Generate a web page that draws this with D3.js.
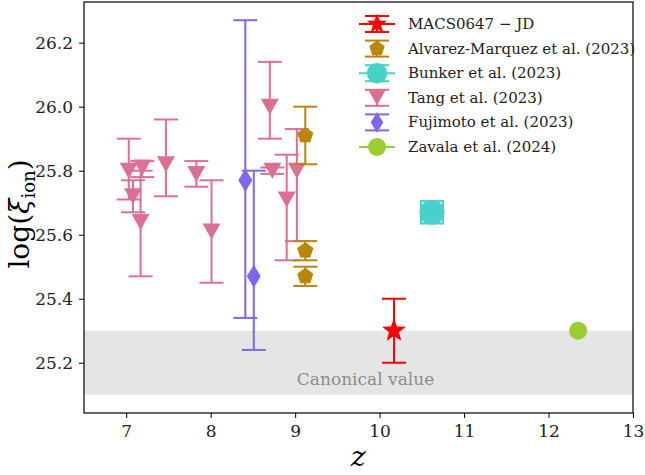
<!DOCTYPE html>
<html>
<head>
<meta charset="utf-8">
<script src="https://cdn.jsdelivr.net/npm/d3@7"></script>
<style>
  body { margin: 0; background: #fff; }
  svg text { font-family: "DejaVu Serif", serif; }
</style>
</head>
<body>
<div id="chart"></div>
<script>
// data
const macsZ = [10.17], macsY = [25.30], macsErr = [0.10];
const alvZ = [9.12, 9.12, 9.12], alvY = [25.91, 25.55, 25.47], alvErr = [0.09, 0.03, 0.03];
const bunkerZ = [10.62], bunkerY = [25.67], bunkerXErr = [0.13], bunkerYErr = [0.035];
const tangZ = [7.03, 7.08, 7.17, 7.19, 7.47, 7.83, 8.01, 8.70, 8.73, 8.90, 9.02];
const tangY = [25.80, 25.72, 25.64, 25.81, 25.82, 25.79, 25.61, 26.00, 25.80, 25.71, 25.80];
const tangLo = [0.09, 0.05, 0.17, 0.03, 0.10, 0.04, 0.16, 0.10, 0.01, 0.19, 0.22];
const tangHi = [0.10, 0.05, 0.16, 0.02, 0.14, 0.04, 0.16, 0.14, 0.01, 0.14, 0.13];
const fujiZ = [8.41, 8.51], fujiY = [25.77, 25.47], fujiLo = [0.43, 0.23], fujiHi = [0.50, 0.33];
const zavZ = [12.35], zavY = [25.30];
const xTicks = [7, 8, 9, 10, 11, 12, 13];
const yTicks = [25.2, 25.4, 25.6, 25.8, 26.0, 26.2];
const canonical = [25.1, 25.3];

const W = 645, H = 475;
const m = {left: 84, right: 12, top: 2, bottom: 62};
const svg = d3.select("#chart").append("svg").attr("width", W).attr("height", H);
const x = d3.scaleLinear().domain([6.5, 13]).range([m.left, W - m.right]);
const y = d3.scaleLinear().domain([25.043, 26.327]).range([H - m.bottom, m.top]);

const colors = {
  macs: "#ff0000", alv: "#b8860b", bunker: "#48d1cc",
  tang: "#db7093", fuji: "#7b68ee", zav: "#9acd32"
};

// marker paths
function starPath(r) {
  const pts = [];
  for (let i = 0; i < 10; i++) {
    const rr = i % 2 ? r * 0.42 : r;
    const a = -Math.PI / 2 + i * Math.PI / 5;
    pts.push([rr * Math.cos(a), rr * Math.sin(a)]);
  }
  return "M" + pts.join("L") + "Z";
}
function polyPath(n, r) {
  const pts = [];
  for (let i = 0; i < n; i++) {
    const a = -Math.PI / 2 + i * 2 * Math.PI / n;
    pts.push([r * Math.cos(a), r * Math.sin(a)]);
  }
  return "M" + pts.join("L") + "Z";
}
const triDown = (w, h) => `M${-w / 2},${-h / 2}L${w / 2},${-h / 2}L0,${h / 2}Z`;
const diamond = (w, h) => `M0,${-h / 2}L${w / 2},0L0,${h / 2}L${-w / 2},0Z`;
const circle = r => `M${r},0A${r},${r} 0 1,1 ${-r},0A${r},${r} 0 1,1 ${r},0Z`;

const markers = {
  macs: starPath(12.5),
  alv: polyPath(5, 8.5),
  bunker: circle(12.5),
  tang: triDown(18, 16),
  fuji: diamond(14, 23),
  zav: circle(9)
};

// canonical band
svg.append("rect")
  .attr("x", m.left).attr("width", W - m.right - m.left)
  .attr("y", y(canonical[1])).attr("height", y(canonical[0]) - y(canonical[1]))
  .attr("fill", "#e5e5e5");
svg.append("text")
  .attr("x", x(9.02)).attr("y", y(25.15) + 6)
  .attr("font-size", 17).attr("fill", "#8c8c8c")
  .text("Canonical value");

const g = svg.append("g");
const capW = 12;

function errY(cx, lo, hi, color) {
  g.append("line").attr("x1", cx).attr("x2", cx).attr("y1", y(lo)).attr("y2", y(hi))
    .attr("stroke", color).attr("stroke-width", 2);
  [lo, hi].forEach(v => g.append("line")
    .attr("x1", cx - capW).attr("x2", cx + capW).attr("y1", y(v)).attr("y2", y(v))
    .attr("stroke", color).attr("stroke-width", 2));
}
function errX(cy, lo, hi, color) {
  g.append("line").attr("y1", cy).attr("y2", cy).attr("x1", x(lo)).attr("x2", x(hi))
    .attr("stroke", color).attr("stroke-width", 2);
  [lo, hi].forEach(v => g.append("line")
    .attr("y1", cy - capW).attr("y2", cy + capW).attr("x1", x(v)).attr("x2", x(v))
    .attr("stroke", color).attr("stroke-width", 2));
}
function mark(cx, cy, key) {
  g.append("path").attr("d", markers[key]).attr("transform", `translate(${cx},${cy})`)
    .attr("fill", colors[key]);
}

// Tang et al.
tangZ.forEach((z, i) => {
  errY(x(z), tangY[i] - tangLo[i], tangY[i] + tangHi[i], colors.tang);
  mark(x(z), y(tangY[i]), "tang");
});
// Fujimoto et al.
fujiZ.forEach((z, i) => {
  errY(x(z), fujiY[i] - fujiLo[i], fujiY[i] + fujiHi[i], colors.fuji);
  mark(x(z), y(fujiY[i]), "fuji");
});
// Alvarez-Marquez et al.
alvZ.forEach((z, i) => {
  errY(x(z), alvY[i] - alvErr[i], alvY[i] + alvErr[i], colors.alv);
  mark(x(z), y(alvY[i]), "alv");
});
// Bunker et al.
bunkerZ.forEach((z, i) => {
  mark(x(z), y(bunkerY[i]), "bunker");
  errY(x(z), bunkerY[i] - bunkerYErr[i], bunkerY[i] + bunkerYErr[i], colors.bunker);
  errX(y(bunkerY[i]), z - bunkerXErr[i], z + bunkerXErr[i], colors.bunker);
});
// Zavala et al.
zavZ.forEach((z, i) => mark(x(z), y(zavY[i]), "zav"));
// MACS0647-JD
macsZ.forEach((z, i) => {
  errY(x(z), macsY[i] - macsErr[i], macsY[i] + macsErr[i], colors.macs);
  mark(x(z), y(macsY[i]), "macs");
});

// axes
const xAxis = svg.append("g").attr("transform", `translate(0,${H - m.bottom})`)
  .call(d3.axisBottom(x).tickValues(xTicks).tickFormat(d3.format("d")).tickSize(5).tickPadding(7));
const yAxis = svg.append("g").attr("transform", `translate(${m.left},0)`)
  .call(d3.axisLeft(y).tickValues(yTicks).tickFormat(d3.format(".1f")).tickSize(5).tickPadding(6));
[xAxis, yAxis].forEach(a => {
  a.attr("font-family", null);
  a.select(".domain").remove();
  a.selectAll("text").attr("font-size", 17).attr("fill", "#222");
  a.selectAll("line").attr("stroke", "#000");
});
svg.append("rect")
  .attr("x", m.left).attr("y", m.top)
  .attr("width", W - m.right - m.left).attr("height", H - m.bottom - m.top)
  .attr("fill", "none").attr("stroke", "#000").attr("stroke-width", 1.2);

svg.append("text")
  .attr("x", (m.left + W - m.right) / 2).attr("y", 466)
  .attr("text-anchor", "middle").attr("font-size", 28).attr("font-style", "italic")
  .text("z");
const yl = svg.append("text")
  .attr("transform", "translate(29,214) rotate(-90)")
  .attr("text-anchor", "middle").attr("font-size", 28);
yl.append("tspan").text("log(");
yl.append("tspan").attr("font-style", "italic").text("ξ");
yl.append("tspan").attr("font-size", 18).attr("dy", 6).text("ion");
yl.append("tspan").attr("dy", -6).text(")");

// legend
const legendNames = ["MACS0647 \u2212 JD", "Alvarez-Marquez et al. (2023)", "Bunker et al. (2023)",
  "Tang et al. (2023)", "Fujimoto et al. (2023)", "Zavala et al. (2024)"];
const legendKeys = ["macs", "alv", "bunker", "tang", "fuji", "zav"];
const legendHasX = [true, false, true, false, false, true];
const legendHasY = [true, true, true, true, true, false];
const lg = svg.append("g").attr("transform", "translate(377,24)");
legendKeys.forEach((k, i) => {
  const row = lg.append("g").attr("transform", `translate(0,${i * 24.6})`);
  if (legendHasX[i]) row.append("line").attr("x1", -18).attr("x2", 18)
    .attr("stroke", colors[k]).attr("stroke-width", 2);
  if (legendHasY[i]) {
    [-8, 8].forEach(v => row.append("line").attr("x1", -capW).attr("x2", capW)
      .attr("y1", v).attr("y2", v).attr("stroke", colors[k]).attr("stroke-width", 2));
    row.append("line").attr("y1", -8).attr("y2", 8).attr("stroke", colors[k]).attr("stroke-width", 2);
  }
  const sc = k === "bunker" ? 0.82 : k === "zav" ? 1.0 : k === "macs" ? 0.85 : k === "fuji" ? 0.9 : 0.95;
  row.append("path").attr("d", markers[k]).attr("transform", `scale(${sc})`).attr("fill", colors[k]);
  row.append("text").attr("x", 31).attr("y", 5).attr("font-size", 15).attr("fill", "#222")
    .text(legendNames[i]);
});
</script>
</body>
</html>
